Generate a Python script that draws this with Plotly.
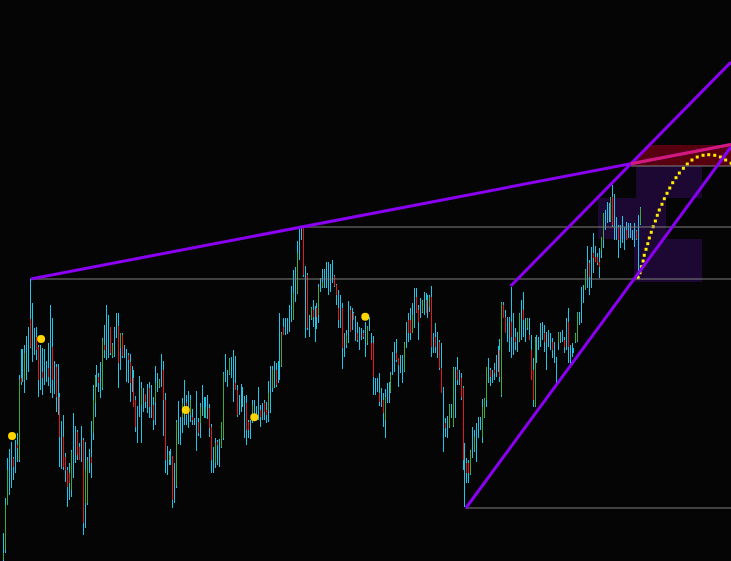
import plotly.graph_objects as go

N = None
# ---- bar data (chart level units; larger level = lower price) ----
bar_top = [533,498,458,449,442,457,440,433,375,349, 349,345,336,327,279,303,328,327,345,345,
           348,349,361,343,305,318,361,364,364,393, 421,415,453,467,463,450,413,426,430,443,
           426,438,442,457,449,421,385,375,365,373, 362,338,325,305,315,327,343,327,313,313,
           333,333,345,349,353,354,366,370,396,406, 376,382,388,394,384,382,385,397,366,373,
           379,354,361,393,446,451,449,456,463,420, 401,417,398,380,395,391,395,409,418,391,
           418,403,385,397,397,395,404,424,447,438, 440,439,422,372,354,370,358,357,350,356,
           385,395,384,387,396,395,420,420,400,400, 406,387,405,403,400,402,381,366,366,361,
           363,361,313,332,318,318,318,305,286,270, 267,241,228,227,227,266,273,315,307,300,
           306,303,284,278,269,269,262,262,264,260, 275,284,290,295,303,333,330,301,306,308,
           312,316,322,327,328,330,322,326,317,333, 336,378,378,373,388,393,389,383,382,372,
           352,342,339,358,355,355,342,322,313,308, 303,288,288,305,298,300,292,293,295,295,
           286,333,323,332,340,343,387,418,416,404, 404,367,367,357,370,373,386,443,458,460,
           450,427,430,423,417,417,399,398,367,358, 368,370,363,355,346,339,302,302,310,317,
           317,287,313,328,332,313,300,292,318,318, 318,335,358,337,335,337,323,322,325,332,
           330,333,338,342,357,332,332,330,337,318, 308,345,343,348,333,312,312,287,285,269,
           246,260,247,233,246,253,248,237,213,210, 202,203,197,185,194,217,225,225,216,227,
           222,223,223,230,223,230,215,207]
bar_bottom = [561,553,505,495,488,480,473,462,462,385, 382,393,380,372,348,362,355,360,397,390,
              395,385,382,386,393,398,394,412,415,467, 469,470,482,507,500,497,478,463,460,460,
              462,535,528,505,473,478,440,417,387,392, 398,390,358,360,358,355,358,357,338,388,
              370,358,358,382,383,402,392,407,432,443, 417,443,412,408,413,418,418,430,425,392,
              388,387,436,473,475,465,465,508,503,488, 444,445,433,425,425,428,422,425,425,451,
              436,438,416,418,418,419,437,473,473,468, 465,467,448,440,382,387,375,378,402,390,
              417,415,412,407,438,445,438,439,423,420, 420,420,427,420,420,423,422,413,392,388,
              387,383,380,367,335,335,334,332,322,320, 302,294,260,240,277,338,330,337,320,327,
              342,329,323,292,288,288,288,295,292,283, 287,305,328,328,369,357,348,343,332,330,
              320,341,342,350,340,339,357,345,331,360, 395,395,392,406,407,427,438,403,403,393,
              375,372,362,387,373,383,372,348,342,340, 333,328,313,340,318,313,315,313,318,312,
              357,353,353,358,370,393,452,437,438,428, 418,427,418,385,385,400,470,507,483,483,
              475,458,452,462,438,430,443,418,407,383, 386,383,380,377,372,382,397,318,333,342,
              352,358,355,350,352,342,340,337,342,330, 340,380,407,407,363,350,347,340,352,370,
              347,350,358,363,383,350,343,342,353,350, 363,367,357,353,343,342,325,323,303,290,
              288,295,288,273,262,265,278,258,248,230, 223,222,222,227,240,240,258,248,243,250,
              240,238,238,240,247,240,278,225]
bar_open = [560,550,505,N,N,458,N,445,460,378, N,380,N,N,319,N,N,337,347,N,
            372,N,N,368,N,347,N,367,N,397, N,437,457,470,473,490,N,N,432,447,
            N,440,503,503,N,457,433,403,N,377, N,388,345,N,N,327,356,N,N,326,
            348,335,N,N,355,362,N,378,400,N, N,405,N,394,N,388,N,405,402,N,
            387,N,370,400,N,460,N,456,N,486, N,N,417,N,403,N,415,417,N,N,
            422,423,N,N,417,N,408,427,N,463, 442,N,447,438,N,N,374,N,N,383,
            390,N,N,N,N,403,422,N,417,N, N,N,410,N,403,410,410,N,388,N,
            370,N,N,366,327,N,N,N,N,320, N,293,N,N,228,N,275,N,319,310,
            N,308,315,N,287,N,N,N,N,N, 276,285,308,N,308,N,345,N,310,N,
            313,N,333,N,N,333,N,343,N,343, 343,N,N,393,N,400,420,N,N,392,
            N,N,353,358,N,N,371,N,320,320, 333,N,297,310,N,312,N,300,N,307,
            297,N,337,N,342,368,N,423,N,427, N,426,N,370,N,378,388,N,463,463,
            474,N,450,N,N,N,437,417,400,N, 370,N,370,N,N,350,395,305,317,N,
            N,322,N,337,N,341,N,310,N,328, 335,350,370,406,N,N,N,N,333,N,
            N,N,342,N,N,343,N,N,340,N, 322,N,N,N,342,341,N,N,N,290,
            N,263,N,253,257,257,262,250,240,N, N,N,221,197,N,N,227,N,N,N,
            230,N,N,N,N,231,N,224]
bar_close = [553,505,470,N,N,467,N,448,380,382, N,353,N,N,347,N,N,350,380,N,
             378,N,N,377,N,380,N,397,N,437, N,467,470,487,483,452,N,N,455,460,
             N,523,470,460,N,463,400,377,N,383, N,340,350,N,N,353,345,N,N,363,
             333,356,N,N,360,383,N,407,427,N, N,388,N,402,N,407,N,420,383,N,
             380,N,400,460,N,455,N,500,N,422, N,N,403,N,415,N,400,420,N,N,
             433,407,N,N,407,N,428,460,N,443, 445,N,422,374,N,N,359,N,N,390,
             415,N,N,N,N,430,430,N,405,N, N,N,417,N,412,415,393,N,370,N,
             385,N,N,333,335,N,N,N,N,293, N,253,N,N,275,N,328,N,308,317,
             N,317,287,N,282,N,N,N,N,N, 286,295,320,N,348,N,335,N,332,N,
             320,N,340,N,N,337,N,327,N,360, 377,N,N,402,N,413,397,N,N,375,
             N,N,360,365,N,N,343,N,333,333, 315,N,313,322,N,301,N,313,N,297,
             347,N,347,N,368,393,N,428,N,405, N,368,N,380,N,397,460,N,473,473,
             451,N,437,N,N,N,407,399,367,N, 377,N,373,N,N,377,303,318,333,N,
             N,337,N,342,N,314,N,320,N,319, 340,380,400,338,N,N,N,N,342,N,
             N,N,350,N,N,333,N,N,347,N, 347,N,N,N,334,313,N,N,N,270,
             N,277,N,258,262,263,267,237,213,N, N,N,198,225,N,N,240,N,N,N,
             240,N,N,N,N,239,N,208]

# ---- signal dots and projected path (bar index, level) ----
signal_idx = [4.4, 19.3, 93.6, 128.8, 185.8]
signal_lvl = [436, 339, 410, 417.3, 316.7]

proj_idx = [326.0, 326.9, 327.6, 328.5, 329.1, 330.0, 330.9, 331.7, 332.7, 333.7,
            334.8, 335.8, 336.8, 338.2, 339.4, 340.8, 342.2, 343.7, 345.4, 347.1,
            349.2, 351.2, 353.6, 356.3, 359.3, 362.2, 365.3, 368.2, 370.9, 373.7]
proj_lvl = [277.7, 272.7, 266.7, 261.0, 255.3, 249.3, 243.7, 238.0, 232.3, 226.7,
            221.0, 215.3, 210.0, 204.3, 198.7, 193.3, 188.0, 182.7, 177.7, 173.0,
            168.3, 164.0, 160.0, 157.0, 155.3, 154.7, 155.3, 157.0, 160.0, 163.3]

# ---- drawing-object anchors (bar index, level) ----
trend_main = [(14, 279), (153, 227)]
channel_low = [(237.5, 508), (373.65, 147)]
channel_high = [(260.5, 286), (373.65, 62)]
h_levels = [(14, 279), (153, 227), (322.3, 166), (237.3, 508)]
zones = [(324.9, 358.8, 166, 198), (305.3, 340.3, 198, 239), (323.8, 358.8, 239, 282)]
red_zone_lvls = (145, 166)

X_MIN, X_MAX = -1.80, 373.65

BG = "#050505"
CYAN = "#1fc4e6"
RED = "#e01c1c"
GREEN = "#3fa83a"
PURPLE = "#8b00f2"
PINK = "#d41a78"
GRAY = "#808080"


def line_at(p1, p2, x):
    (x1, y1), (x2, y2) = p1, p2
    return y1 + (y2 - y1) * (x - x1) / (x2 - x1)


def x_at(p1, p2, y):
    (x1, y1), (x2, y2) = p1, p2
    return x1 + (x2 - x1) * (y - y1) / (y2 - y1)


wx, wy = [], []
rx, ry, gx, gy = [], [], [], []
for i, (t, b, o, c) in enumerate(zip(bar_top, bar_bottom, bar_open, bar_close)):
    wx += [i, i, None]
    wy += [t, b, None]
    if o is None or c is None or o == c:
        continue
    if c > o:  # bearish
        rx += [i, i, None]
        ry += [o, c, None]
    else:
        gx += [i, i, None]
        gy += [o, c, None]

fig = go.Figure()
fig.add_trace(go.Scatter(x=wx, y=wy, mode="lines", line=dict(color=CYAN, width=1),
                         hoverinfo="skip", showlegend=False))
fig.add_trace(go.Scatter(x=rx, y=ry, mode="lines", line=dict(color=RED, width=1),
                         hoverinfo="skip", showlegend=False))
fig.add_trace(go.Scatter(x=gx, y=gy, mode="lines", line=dict(color=GREEN, width=1),
                         hoverinfo="skip", showlegend=False))
fig.add_trace(go.Scatter(x=proj_idx, y=proj_lvl, mode="markers",
                         marker=dict(symbol="square", size=3, color="#ffee00", line=dict(width=0)),
                         hoverinfo="skip", showlegend=False))
fig.add_trace(go.Scatter(x=signal_idx, y=signal_lvl, mode="markers",
                         marker=dict(size=8, color="#ffd400", line=dict(width=0)),
                         hoverinfo="skip", showlegend=False))

shapes = []
# zones (below bars)
for x0, x1, y0, y1 in zones:
    shapes.append(dict(type="rect", xref="x", yref="y", x0=x0, x1=x1, y0=y0, y1=y1,
                       fillcolor="#1d0834", line=dict(width=0), layer="below"))
# red zone bounded on the left by the upper channel line
rt, rb = red_zone_lvls
xa = x_at(*channel_high, rb)
xb = x_at(*channel_high, rt)
shapes.append(dict(type="path", xref="x", yref="y",
                   path=f"M {xa},{rb} L {xb},{rt} L {X_MAX + 5},{rt} L {X_MAX + 5},{rb} Z",
                   fillcolor="#560010", line=dict(width=0), layer="below"))
# horizontal levels
for x0, lv in h_levels:
    shapes.append(dict(type="line", xref="x", yref="y", x0=x0, x1=X_MAX + 5, y0=lv, y1=lv,
                       line=dict(color=GRAY, width=1), layer="above"))
# trend lines
p0 = trend_main[0]
shapes.append(dict(type="line", xref="x", yref="y", x0=p0[0], y0=p0[1],
                   x1=X_MAX + 5, y1=line_at(*trend_main, X_MAX + 5),
                   line=dict(color=PURPLE, width=3), layer="above"))
for ch in (channel_low, channel_high):
    (a0, b0), (a1, b1) = ch
    shapes.append(dict(type="line", xref="x", yref="y", x0=a0, y0=b0, x1=a1, y1=b1,
                       line=dict(color=PURPLE, width=3), layer="above"))
# segment of the main line inside the red zone
m1 = (trend_main[1][1] - trend_main[0][1]) / (trend_main[1][0] - trend_main[0][0])
m2 = (channel_high[1][1] - channel_high[0][1]) / (channel_high[1][0] - channel_high[0][0])
xi = (channel_high[0][1] - trend_main[0][1] + m1 * trend_main[0][0] - m2 * channel_high[0][0]) / (m1 - m2)
shapes.append(dict(type="line", xref="x", yref="y", x0=xi, y0=line_at(*trend_main, xi),
                   x1=X_MAX + 5, y1=line_at(*trend_main, X_MAX + 5),
                   line=dict(color=PINK, width=3), layer="above"))

fig.update_layout(
    width=731, height=561,
    margin=dict(l=0, r=0, t=0, b=0),
    paper_bgcolor=BG, plot_bgcolor=BG,
    shapes=shapes,
    xaxis=dict(visible=False, range=[X_MIN, X_MAX], fixedrange=True),
    yaxis=dict(visible=False, range=[561, 0], fixedrange=True),
    showlegend=False,
)

post = ("document.body.style.margin='0';document.body.style.padding='0';"
        "document.body.style.background='" + BG + "';"
        "document.body.style.overflow='hidden';"
        "document.querySelectorAll('.scatterlayer path.js-line').forEach("
        "function(p){p.style.shapeRendering='crispEdges';});")
fig.write_html("out.html", config={"displayModeBar": False}, post_script=post)
